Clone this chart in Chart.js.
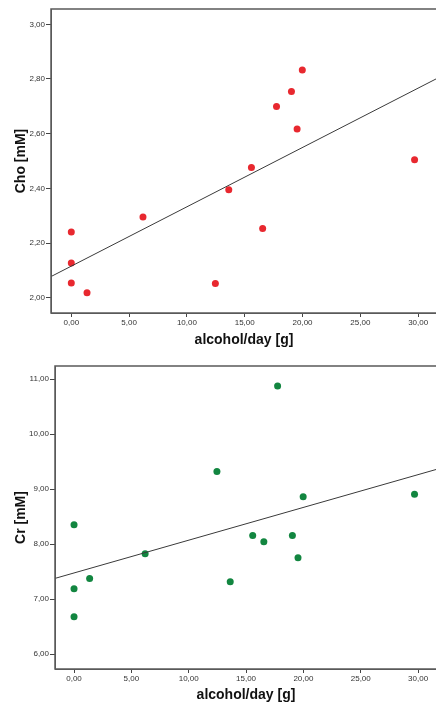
<!DOCTYPE html>
<html>
<head>
<meta charset="utf-8">
<script src="https://cdn.jsdelivr.net/npm/chart.js@4/dist/chart.umd.min.js"></script>
<style>
  body { margin: 0; background: #fff; overflow: hidden; width: 436px; height: 702px; position: relative; }
  .box { position: absolute; left: 0; width: 446px; height: 351px; }
  #boxCho { top: 0; }
  #boxCr { top: 351px; }
</style>
</head>
<body>
<div class="box" id="boxCho"><canvas id="choChart"></canvas></div>
<div class="box" id="boxCr"><canvas id="crChart"></canvas></div>
<script>
// alcohol per day (same subjects in both plots)
const alcohol = [0, 0, 0, 1.36, 6.2, 12.46, 13.62, 15.58, 16.55, 17.75, 19.04, 19.53, 19.98, 29.69]
const cho = [2.240, 2.127, 2.054, 2.018, 2.295, 2.052, 2.395, 2.476, 2.253, 2.699, 2.754, 2.617, 2.833, 2.505]
const cr = [8.351, 7.187, 6.678, 7.376, 7.824, 9.322, 7.315, 8.158, 8.042, 10.878, 8.158, 7.751, 8.860, 8.909]

// fit lines at both ends
const fitX = [-2, 32]
const choFit = [2.072, 2.810]
const crFit = [7.356, 9.384]

// tick labels
const xTicks = [0, 5, 10, 15, 20, 25, 30]
const choTicks = [2.0, 2.2, 2.4, 2.6, 2.8, 3.0]
const crTicks = [6, 7, 8, 9, 10, 11]

const FONT = "'Liberation Sans', Arial, sans-serif"
const comma = v => Number(v).toFixed(2).replace(".", ",")

// draws the box round the plot area
const framePlugin = {
  id: "frame",
  afterDatasetsDraw(chart) {
    const { ctx, chartArea: a } = chart
    ctx.save()
    ctx.strokeStyle = "#5a5a5a"
    ctx.lineWidth = 1.5
    ctx.strokeRect(a.left, a.top, a.right - a.left, a.bottom - a.top)
    ctx.restore()
  }
}

const makeChart = (id, yVals, fitVals, color, yTicks, opt) => {
  const pts = alcohol.map((x, i) => ({ x: x, y: yVals[i] }))
  const line = fitX.map((x, i) => ({ x: x, y: fitVals[i] }))
  return new Chart(document.getElementById(id), {
    type: "scatter",
    data: {
      datasets: [
        {
          data: line,
          showLine: true,
          borderColor: "#3a3a3a",
          borderWidth: 1,
          pointRadius: 0,
          fill: false
        },
        {
          data: pts,
          backgroundColor: color,
          borderWidth: 0,
          pointRadius: 3.5
        }
      ]
    },
    options: {
      responsive: true,
      maintainAspectRatio: false,
      animation: false,
      layout: { padding: { top: opt.top, right: 9, bottom: 0, left: 0 } },
      plugins: { legend: { display: false }, tooltip: { enabled: false } },
      scales: {
        x: {
          type: "linear",
          min: opt.xMin,
          max: opt.xMax,
          afterBuildTicks: s => { s.ticks = xTicks.map(v => ({ value: v })) },
          afterFit: s => { s.height = opt.xH },
          grid: { drawOnChartArea: false, tickLength: 4, color: "#444" },
          border: { display: true, color: "#5a5a5a" },
          ticks: { font: { family: FONT, size: 8 }, color: "#333", padding: 1, maxRotation: 0, callback: comma },
          title: {
            display: true,
            text: "alcohol/day [g]",
            color: "#111",
            font: { family: FONT, size: 14, weight: "bold", lineHeight: 1 },
            padding: { top: 0, bottom: opt.xTitlePad }
          }
        },
        y: {
          type: "linear",
          min: opt.yMin,
          max: opt.yMax,
          afterBuildTicks: s => { s.ticks = yTicks.map(v => ({ value: v })) },
          afterFit: s => { s.width = opt.yW },
          grid: { drawOnChartArea: false, tickLength: 5, color: "#444" },
          border: { display: true, color: "#5a5a5a" },
          ticks: { font: { family: FONT, size: 8 }, color: "#333", padding: 1, callback: comma },
          title: {
            display: true,
            text: opt.yTitle,
            color: "#111",
            font: { family: FONT, size: 14, weight: "bold", lineHeight: 1 },
            padding: { top: 14.5, bottom: 0 }
          }
        }
      }
    },
    plugins: [framePlugin]
  })
}

makeChart("choChart", cho, choFit, "#e8282f", choTicks, {
  top: 9, xH: 38, yW: 51, xMin: -1.756, xMax: 31.63, yMin: 1.944, yMax: 3.056,
  xTitlePad: 4, yTitle: "Cho [mM]"
})
makeChart("crChart", cr, crFit, "#128640", crTicks, {
  top: 15, xH: 33, yW: 55, xMin: -1.66, xMax: 31.65, yMin: 5.727, yMax: 11.242,
  xTitlePad: 0, yTitle: "Cr [mM]"
})
</script>
</body>
</html>
